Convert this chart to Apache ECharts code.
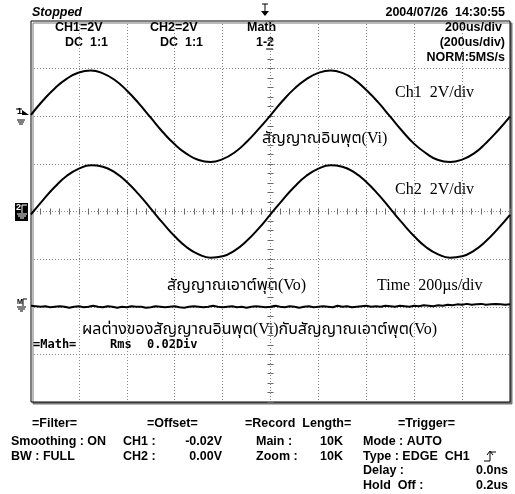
<!DOCTYPE html>
<html>
<head>
<meta charset="utf-8">
<script src="https://cdn.jsdelivr.net/npm/echarts@6/dist/echarts.min.js"></script>
<style>
  html, body { margin: 0; padding: 0; background: #fff; }
  #scope { width: 515px; height: 494px; }
</style>
</head>
<body>
<div id="scope"></div>
<script>
// Screen: 10 horizontal divisions of 200 us, 8 vertical divisions.
const timePerDivUs = 200;
const horizontalDivs = 10;
const verticalDivs = 8;

// CH1 / CH2 samples (in divisions), one sample every 50 us.
const chSampleStepUs = 50;
const ch1Div = [
  2.03, 2.33, 2.59, 2.79, 2.92, 2.96, 2.90, 2.76, 2.54, 2.27,
  1.97, 1.67, 1.41, 1.21, 1.08, 1.04, 1.10, 1.24, 1.46, 1.73,
  2.02, 2.32, 2.58, 2.78, 2.91, 2.96, 2.91, 2.77, 2.55, 2.29,
  1.99, 1.69, 1.42, 1.22, 1.08, 1.04, 1.09, 1.22, 1.44, 1.70,
  1.99
];
const ch2Div = [
  -0.06, 0.24, 0.52, 0.75, 0.90, 0.97, 0.94, 0.82, 0.62, 0.36,
   0.06, -0.24, -0.52, -0.75, -0.90, -0.97, -0.94, -0.82, -0.62, -0.36,
  -0.06, 0.24, 0.52, 0.75, 0.90, 0.97, 0.94, 0.82, 0.62, 0.36,
   0.06, -0.24, -0.52, -0.75, -0.90, -0.97, -0.94, -0.82, -0.62, -0.36,
  -0.07
];

// Math trace (CH1 - CH2), one sample every 20 us.
const mathSampleStepUs = 20;
const mathDiv = [
  -1.98, -1.99, -2.00, -1.99, -2.01, -2.00, -1.99, -2.00, -2.02, -2.00,
  -1.99, -2.01, -2.00, -1.98, -2.00, -2.01, -1.99, -2.00, -2.02, -2.00,
  -2.01, -1.99, -2.00, -2.00, -2.02, -2.01, -1.99, -2.00, -2.01, -2.00,
  -1.99, -2.01, -2.02, -2.00, -1.99, -2.00, -2.01, -2.00, -1.98, -2.00,
  -2.01, -2.00, -1.99, -2.01, -2.00, -2.02, -2.00, -1.99, -2.00, -2.01,
  -2.00, -1.98, -2.00, -2.01, -1.99, -2.00, -2.02, -2.00, -1.99, -2.01,
  -2.00, -1.99, -2.00, -2.01, -1.98, -2.00, -1.99, -2.01, -2.00, -1.99,
  -1.98, -2.00, -1.99, -2.00, -1.98, -1.99, -2.00, -1.98, -1.99, -2.00,
  -1.98, -1.99, -1.97, -1.98, -1.99, -1.97, -1.98, -1.96, -1.97, -1.95,
  -1.96, -1.94, -1.96, -1.95, -1.94, -1.96, -1.95, -1.94, -1.95, -1.96,
  -1.95
];

const toPairs = (vals, step) => vals.map((v, i) => [i * step, v]);

const SANS = '"Liberation Sans", Arial, sans-serif';
const MONO = '"DejaVu Sans Mono", "Liberation Mono", monospace';
const SERIF = '"Liberation Serif", "DejaVu Serif", "Noto Sans Thai", serif';

function txt(x, y, text, font, align, color) {
  return {
    type: 'text', x: x, y: y, silent: true,
    style: {
      text: text, font: font, fill: color || '#000',
      textAlign: align || 'left',
      textVerticalAlign: 'middle', verticalAlign: 'middle'
    }
  };
}
function seg(x1, y1, x2, y2, color, w) {
  return { type: 'line', silent: true,
    shape: { x1: x1, y1: y1, x2: x2, y2: y2 },
    style: { stroke: color || '#000', lineWidth: w || 1 } };
}

const B12 = 'bold 12.5px ' + SANS;
const serif16 = '16px ' + SERIF;

const graphics = [
  // header
  txt(32, 13, 'Stopped', 'italic bold 12.5px ' + SANS),
  txt(55, 28, 'CH1=2V', B12),
  txt(65, 43, 'DC  1:1', B12),
  txt(150, 28, 'CH2=2V', B12),
  txt(160, 43, 'DC  1:1', B12),
  txt(247, 28, 'Math', B12),
  txt(256, 43, '1-2', B12),
  seg(266, 49, 273, 49),
  txt(505, 13, '2004/07/26  14:30:55', B12, 'right'),
  txt(502, 28, '200us/div', B12, 'right'),
  txt(505, 43, '(200us/div)', B12, 'right'),
  txt(505, 58, 'NORM:5MS/s', B12, 'right'),
  // trigger position marker
  seg(262, 4, 268, 4, '#000', 1),
  seg(265, 4, 265, 12, '#000', 1),
  { type: 'polygon', silent: true, shape: { points: [[261, 11], [269, 11], [265, 16]] }, style: { fill: '#000' } },

  // channel ground markers
  txt(17, 112, '1', 'bold 9px ' + SANS),
  seg(16, 109, 22, 109),
  { type: 'polygon', silent: true, shape: { points: [[22, 110], [29, 115], [22, 115]] }, style: { fill: '#000' } },
  seg(17, 120, 25, 120), seg(18, 122, 24, 122), seg(19, 124, 23, 124),
  { type: 'rect', silent: true, shape: { x: 15, y: 203, width: 13, height: 18 }, style: { fill: '#000' } },
  txt(16, 208, '2', 'bold 9px ' + SANS, 'left', '#fff'),
  seg(22, 205, 27, 205, '#fff'), seg(22, 205, 22, 213, '#fff'),
  seg(17, 214, 27, 214, '#fff'), seg(18, 216, 26, 216, '#fff'), seg(20, 218, 24, 218, '#fff'),
  txt(17, 302, 'M', 'bold 7px ' + SANS),
  seg(23, 299, 27, 299), seg(23, 299, 23, 306),
  seg(17, 307, 26, 307), seg(18, 309, 25, 309), seg(20, 311, 23, 311),

  // annotations on the screen
  txt(395, 93, 'Ch1  2V/div', serif16),
  txt(262, 139, 'สัญญาณอินพุต(Vi)', serif16),
  txt(395, 190, 'Ch2  2V/div', serif16),
  txt(167, 286, 'สัญญาณเอาต์พุต(Vo)', serif16),
  txt(377, 286, 'Time  200\u00b5s/div', serif16),
  txt(82, 330, 'ผลต่างของสัญญาณอินพุต(Vi)กับสัญญาณเอาต์พุต(Vo)', serif16),
  txt(33, 345, '=Math=', 'bold 12px ' + MONO),
  txt(110, 345, 'Rms', 'bold 12px ' + MONO),
  txt(147, 345, '0.02Div', 'bold 12px ' + MONO),

  // status panel
  txt(32, 424, '=Filter=', B12),
  txt(11, 442, 'Smoothing : ON', B12),
  txt(11, 457, 'BW : FULL', B12),
  txt(147, 424, '=Offset=', B12),
  txt(123, 442, 'CH1 :', B12),
  txt(222, 442, '-0.02V', B12, 'right'),
  txt(123, 457, 'CH2 :', B12),
  txt(222, 457, '0.00V', B12, 'right'),
  txt(245, 424, '=Record  Length=', B12),
  txt(256, 442, 'Main :', B12),
  txt(320, 442, '10K', B12),
  txt(256, 457, 'Zoom :', B12),
  txt(320, 457, '10K', B12),
  txt(398, 424, '=Trigger=', B12),
  txt(363, 442, 'Mode : AUTO', B12),
  txt(363, 457, 'Type : EDGE  CH1', B12),
  seg(484, 461, 490, 461), seg(490, 461, 490, 452), seg(487, 455, 490, 451), seg(493, 455, 490, 451), seg(490, 452, 496, 452),
  txt(363, 471, 'Delay :', B12),
  txt(508, 471, '0.0ns', B12, 'right'),
  txt(363, 486, 'Hold  Off :', B12),
  txt(508, 486, '0.2us', B12, 'right')
];

const gridDots = { show: true, lineStyle: { color: '#888', width: 1, type: [1, 2] } };
const xMax = timePerDivUs * horizontalDivs;
const yHalf = verticalDivs / 2;

function tickX(inside) {
  return { type: 'value', min: 0, max: xMax, interval: timePerDivUs / 5, position: 'bottom',
    axisLine: { show: false, onZero: true }, axisLabel: { show: false }, splitLine: { show: false },
    axisTick: { show: true, inside: inside, length: 3, lineStyle: { color: '#666', width: 1 } } };
}
function tickY(inside) {
  return { type: 'value', min: -yHalf, max: yHalf, interval: 0.2, position: 'left', offset: -239.5,
    axisLine: { show: false, onZero: false }, axisLabel: { show: false }, splitLine: { show: false },
    axisTick: { show: true, inside: inside, length: 3, lineStyle: { color: '#666', width: 1 } } };
}

const chart = echarts.init(document.getElementById('scope'), null, { renderer: 'canvas' });
chart.setOption({
  animation: false,
  backgroundColor: '#fff',
  grid: {
    left: 31, top: 21, width: 479, height: 381,
    show: true, backgroundColor: '#fff', borderColor: '#000', borderWidth: 1,
    shadowColor: '#777', shadowOffsetX: 2, shadowOffsetY: 2, shadowBlur: 0
  },
  xAxis: [
    { type: 'value', min: 0, max: xMax, interval: timePerDivUs,
      axisLine: { show: false }, axisTick: { show: false }, axisLabel: { show: false },
      splitLine: Object.assign({ showMinLine: false, showMaxLine: false }, gridDots) },
    tickX(false), tickX(true)
  ],
  yAxis: [
    { type: 'value', min: -yHalf, max: yHalf, interval: 1,
      axisLine: { show: false }, axisTick: { show: false }, axisLabel: { show: false },
      splitLine: Object.assign({ showMinLine: false, showMaxLine: false }, gridDots) },
    tickY(false), tickY(true)
  ],
  series: [
    { name: 'CH1', type: 'line', data: toPairs(ch1Div, chSampleStepUs), smooth: true, showSymbol: false,
      lineStyle: { color: '#000', width: 2 }, z: 5 },
    { name: 'CH2', type: 'line', data: toPairs(ch2Div, chSampleStepUs), smooth: true, showSymbol: false,
      lineStyle: { color: '#000', width: 2 }, z: 5 },
    { name: 'Math', type: 'line', data: toPairs(mathDiv, mathSampleStepUs), smooth: false, showSymbol: false,
      lineStyle: { color: '#000', width: 2 }, z: 5 }
  ],
  graphic: { elements: graphics }
});
</script>
</body>
</html>
